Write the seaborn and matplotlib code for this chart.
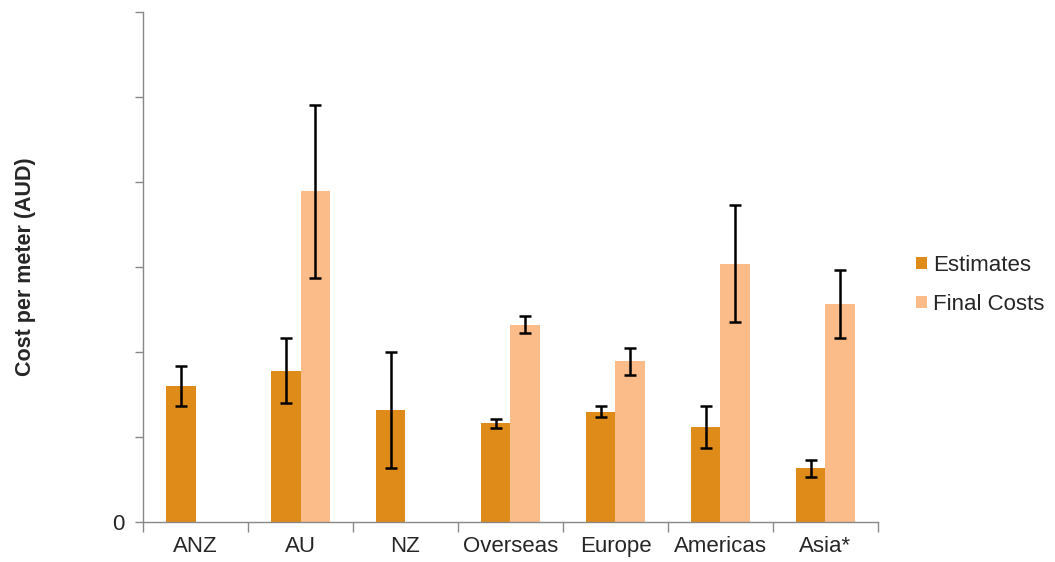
import numpy as np
import pandas as pd
import seaborn as sns
import matplotlib
matplotlib.use("Agg")
import matplotlib.pyplot as plt
from matplotlib.ticker import FixedLocator, NullFormatter, FixedFormatter

# ---- data (units: one y gridline step) ----
regions = ["ANZ", "AU", "NZ", "Overseas", "Europe", "Americas", "Asia*"]
estimates = [1.60, 1.78, 1.32, 1.16, 1.30, 1.12, 0.63]
estimates_err = [0.23, 0.38, 0.68, 0.05, 0.07, 0.245, 0.105]
final_costs = [np.nan, 3.89, np.nan, 2.32, 1.89, 3.04, 2.56]
final_err = [np.nan, 1.02, np.nan, 0.10, 0.16, 0.69, 0.40]
series = ["Estimates", "Final Costs"]
colors = ["#DE8B1A", "#FBBC8A"]
y_ticks = [0, 1, 2, 3, 4, 5, 6]
y_ticklabels = ["0", "", "", "", "", "", ""]

df = pd.DataFrame({
    "Region": regions * 2,
    "Series": [series[0]] * len(regions) + [series[1]] * len(regions),
    "Value": estimates + final_costs,
})
errs = {series[0]: estimates_err, series[1]: final_err}

sns.set_style("white")
plt.rcParams["font.family"] = ["Liberation Sans", "DejaVu Sans"]

fig = plt.figure(figsize=(10.55, 5.62), dpi=100)
ax = fig.add_axes([143 / 1055, 1 - 522 / 562, (878 - 143) / 1055, (522 - 12) / 562])

sns.barplot(data=df, x="Region", y="Value", hue="Series", order=regions,
            hue_order=series, palette=colors, width=0.57, errorbar=None,
            saturation=1, ax=ax, linewidth=0)

# error bars from the drawn bars
for cont, s in zip(ax.containers, series):
    for patch in cont.patches:
        h = patch.get_height()
        if not np.isfinite(h) or h == 0:
            continue
        xc = patch.get_x() + patch.get_width() / 2
        idx = int(round(xc))
        e = errs[s][idx]
        if np.isfinite(e):
            ax.errorbar(xc, h, yerr=e, color="black", elinewidth=1.8,
                        capsize=4, capthick=1.8, zorder=5)

ax.set_xlim(-0.5, len(regions) - 0.5)
ax.set_ylim(0, 6)
ax.yaxis.set_major_locator(FixedLocator(y_ticks))
ax.yaxis.set_major_formatter(FixedFormatter(y_ticklabels))
ax.tick_params(axis="y", which="major", direction="out", length=6, width=1,
               color="#888888", labelsize=16, left=True, pad=7)

# x: labels at centres without marks, marks at boundaries
ax.set_xticks(range(len(regions)))
ax.set_xticklabels(regions)
ax.xaxis.set_minor_locator(FixedLocator(np.arange(-0.5, len(regions), 1.0)))
ax.xaxis.set_minor_formatter(NullFormatter())
ax.tick_params(axis="x", which="major", length=0, labelsize=16, pad=10)
ax.tick_params(axis="x", which="minor", direction="out", length=7, width=1,
               color="#888888", bottom=True)

for side in ["top", "right"]:
    ax.spines[side].set_visible(False)
for side in ["left", "bottom"]:
    ax.spines[side].set_color("#888888")
    ax.spines[side].set_linewidth(1)

ax.set_xlabel("")
ax.set_ylabel("Cost per meter (AUD)", fontsize=15.5, fontweight="bold", labelpad=55)

handles, labels = ax.get_legend_handles_labels()
ax.legend(handles, labels, loc="center left", bbox_to_anchor=(1.04, 0.465),
          frameon=False, fontsize=16, handlelength=0.5, handleheight=0.5,
          handletextpad=0.25, labelspacing=0.8, borderaxespad=0)

fig.savefig("out.png", dpi=100)
